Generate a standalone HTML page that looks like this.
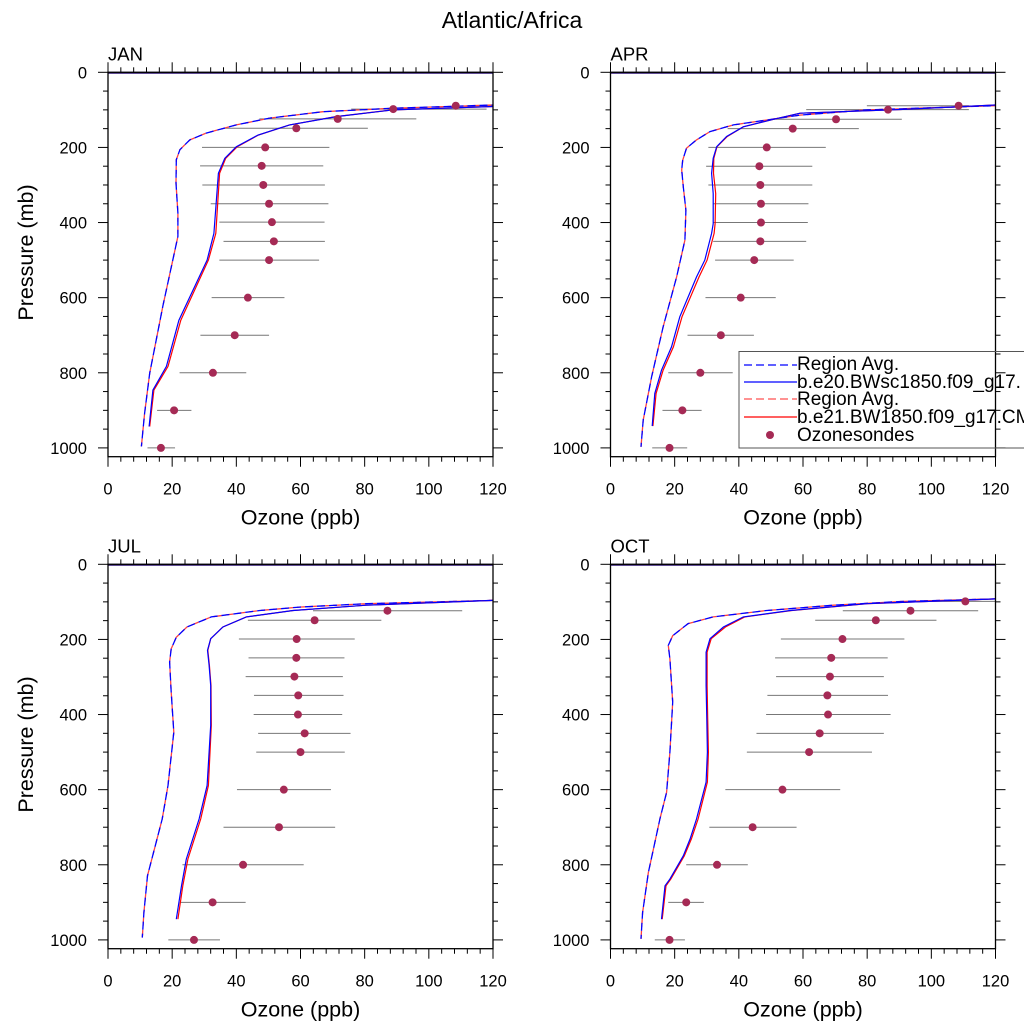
<!DOCTYPE html>
<html><head><meta charset="utf-8"><style>
html,body{margin:0;padding:0;background:#fff;}
svg{display:block;font-family:"Liberation Sans",sans-serif;}
</style></head><body>
<svg id="chart" width="1024" height="1024" viewBox="0 0 1024 1024" xmlns="http://www.w3.org/2000/svg">
<rect width="1024" height="1024" fill="#fff"/>
<text x="512" y="28" font-size="23" text-anchor="middle">Atlantic/Africa</text>
<g id="panels"></g>
<g>
<rect x="739" y="351.5" width="300" height="96.5" fill="none" stroke="#555" stroke-width="1"/>
<line x1="744" y1="365" x2="797" y2="365" stroke="#0000ff" stroke-width="1.2" stroke-dasharray="8,4"/>
<text x="797" y="370" font-size="19">Region Avg.</text>
<line x1="744" y1="382" x2="797" y2="382" stroke="#0000ff" stroke-width="1.2"/>
<text x="797" y="388" font-size="19">b.e20.BWsc1850.f09_g17.</text>
<line x1="744" y1="399" x2="797" y2="399" stroke="#ff5050" stroke-width="1.2" stroke-dasharray="8,4"/>
<text x="797" y="405" font-size="19">Region Avg.</text>
<line x1="744" y1="417" x2="797" y2="417" stroke="#ff0000" stroke-width="1.2"/>
<text x="797" y="423" font-size="19">b.e21.BW1850.f09_g17.CM</text>
<circle cx="770" cy="435" r="4" fill="#a52a55"/>
<text x="797" y="441" font-size="19">Ozonesondes</text>
</g>
</svg>
<script>
// ---- data ----
const panelNames = ["JAN","APR","JUL","OCT"];
const xTicks = [0,20,40,60,80,100,120];
const yTicks = [0,200,400,600,800,1000];
const janObsP = [89,98,124,149,200,249,300,350,399,450,500,600,700,800,900,1000];
const janObsV = [108.4,88.9,71.6,58.7,49,47.9,48.4,50.2,51.1,51.7,50.2,43.6,39.5,32.7,20.6,16.5];
const janObsLo = [111.7,75.8,47.2,36.4,29.3,28.7,29.4,32,34.7,36,34.7,32.3,28.8,22.3,15.3,12.3];
const janObsHi = [125,118,96.1,81,69,67.1,67.6,68.7,67.5,67.6,65.8,55,50.2,43.1,26,20.9];
const aprObsP = [89,99.5,125,150,200,250,300,350,400,450,500,600,700,800,900,1000];
const aprObsV = [108.5,86.5,70.3,56.8,48.7,46.4,46.7,46.9,46.9,46.7,44.8,40.6,34.4,28,22.4,18.4];
const aprObsLo = [79.9,61,50.8,36.5,30.5,29.8,30.5,32,32,32,32.6,29.6,24,18,16.2,13];
const aprObsHi = [111.7,111.7,90.8,77.4,67.1,62.9,62.9,61.7,61.5,61,57.1,51.5,44.7,38.1,28.4,23.9];
const julObsP = [123.6,149,199,249,299,349,400,450,500,600,700,800,900,1000];
const julObsV = [87.1,64.4,58.8,58.7,58.1,59.3,59.2,61.3,60,54.8,53.3,42.1,32.6,26.8];
const julObsLo = [63.9,43.6,40.8,43.8,42.9,45.5,45.4,46.8,46.2,40.2,36,23.2,22.5,18.8];
const julObsHi = [110.4,85.2,76.9,73.7,73.2,73.4,73,75.6,73.8,69.5,70.8,61,42.9,34.9];
const octObsP = [98.7,123.6,149,199,249,299,349,400,450,500,600,700,800,900,1000];
const octObsV = [110.6,93.5,82.7,72.3,68.8,68.4,67.6,67.8,65.2,61.9,53.6,44.3,33.2,23.6,18.4];
const octObsLo = [97.6,72.4,63.8,53.1,51.3,51.6,48.9,48.5,45.5,42.5,35.8,30.8,23.6,18,13.8];
const octObsHi = [120,114.6,101.6,91.6,86.4,85.2,86.5,87.3,85.2,81.5,71.6,58,42.8,29.1,23.2];
const janSolidP = [943,846,783,660,500,429,269,229,198,167,140,118,100,91,88];
const janSolidV = [12.8,14,18.2,22.1,30.9,33,34.4,36.4,40,46.8,56.6,71.2,88.8,120,140];
const janSolidRedV = [13.0,14.3,18.7,22.7,31.3,33.6,34.8,36.7,40.3,46.9,56.6,71.0,88.6,120,140];
const janDashP = [996,908,801,622,437,375,295,233,206,180,162,140,122,105,96,87,85];
const janDashV = [10.4,11.4,13,17.1,21.8,21.8,21.2,21.3,22.4,25.5,30.6,40,50.4,67,87.8,120,140];
const aprSolidP = [942,855,793,731,651,545,500,429,403,323,269,229,198,171,145,125,109,99,87,85];
const aprSolidV = [13,13.8,15.9,19,21.6,26.8,29.4,31.5,32,32,31.5,32,33.1,36.2,41.4,50.8,59.1,90.3,120,140];
const aprSolidRedV = [13.2,14.2,16.4,19.6,22.3,27.6,30.1,32.3,32.6,32.8,32.1,32.2,33.2,36.4,41.4,50.8,59.1,90.3,120,140];
const aprDashP = [997,926,811,678,545,447,367,305,260,234,202,180,158,140,127,114,100,89,86];
const aprDashV = [9.5,10.2,12.8,16.4,20.6,23.2,23.5,22.7,22.2,22.5,23.7,26.8,31,38.3,48.7,59.1,79.9,120,140];
const julSolidP = [945,856,785,678,589,429,323,269,229,198,167,140,123,109,96,94];
const julSolidV = [21.3,22.9,24.4,28.4,30.9,32,32,31.5,31,32,35.8,43.1,57.7,80.5,120,140];
const julSolidRedV = [21.8,23.3,24.9,28.9,31.3,32.2,32.1,31.6,31.1,32,35.8,43.1,57.7,80.5,120,140];
const julDashP = [994,927,829,678,589,447,340,260,225,194,167,140,123,114,105,96,94];
const julDashV = [10.7,11.2,12.3,16.9,18.7,20.5,19.7,19.2,19.7,21.3,24.6,32.2,47.3,59.7,80.5,120,140];
const octSolidP = [945,856,838,776,731,678,580,500,411,323,234,198,167,140,123,105,92,90];
const octSolidV = [15.9,17,18.5,22.7,24.8,26.8,29.8,30.2,30,29.8,29.8,31,35.2,41.4,56,79.9,120,140];
const octSolidRedV = [16.1,17.3,18.8,23,25.2,27.3,30.2,30.5,30.3,30.1,30.1,31.4,35.8,41.9,56.5,80.2,120,140];
const octDashP = [997,927,820,678,607,500,367,252,216,190,158,140,123,109,99,92,90];
const octDashV = [9.5,10,11.8,15.4,17.5,18.5,19.4,18.5,18,19.4,24.2,32,48.7,69.5,90.3,120,140];

const panelData = [
 {obsP:janObsP,obsV:janObsV,lo:janObsLo,hi:janObsHi,sP:janSolidP,sV:janSolidV,sR:janSolidRedV,dP:janDashP,dV:janDashV},
 {obsP:aprObsP,obsV:aprObsV,lo:aprObsLo,hi:aprObsHi,sP:aprSolidP,sV:aprSolidV,sR:aprSolidRedV,dP:aprDashP,dV:aprDashV},
 {obsP:julObsP,obsV:julObsV,lo:julObsLo,hi:julObsHi,sP:julSolidP,sV:julSolidV,sR:julSolidRedV,dP:julDashP,dV:julDashV},
 {obsP:octObsP,obsV:octObsV,lo:octObsLo,hi:octObsHi,sP:octSolidP,sV:octSolidV,sR:octSolidRedV,dP:octDashP,dV:octDashV}
];
const origins = [[108,72.3],[610.5,72.3],[108,564.3],[610.5,564.3]];
const W=385, H=384.4, PSCALE=0.3756;
const NS="http://www.w3.org/2000/svg";
const root=document.getElementById('panels');
function mk(tag,attrs,parent){const e=document.createElementNS(NS,tag);for(const k in attrs)e.setAttribute(k,attrs[k]);parent.appendChild(e);return e;}

panelNames.forEach((name,i)=>{
  const [ox,oy]=origins[i];
  const d=panelData[i];
  const sx=v=>ox+v*W/120;
  const sy=p=>oy+p*PSCALE;
  const g=mk('g',{},root);
  
  
  const clipId='clip'+i;
  const cp=mk('clipPath',{id:clipId},g);
  mk('rect',{x:ox,y:oy-1,width:W,height:H+1},cp);
  const lbl=mk('text',{x:ox,y:oy-12,'font-size':18.5},g);lbl.textContent=name;
  
  
  const tk=mk('g',{stroke:'#000','stroke-width':1},g);
  for(let v=0;v<=120;v+=4){const maj=v%20===0;const L=maj?10:5;
    mk('line',{x1:sx(v),y1:oy,x2:sx(v),y2:oy-L},tk);
    mk('line',{x1:sx(v),y1:oy+H,x2:sx(v),y2:oy+H+L},tk);}
  for(let p=0;p<=1000;p+=50){const maj=p%200===0;const L=maj?10:5;
    mk('line',{x1:ox,y1:sy(p),x2:ox-L,y2:sy(p)},tk);
    mk('line',{x1:ox+W,y1:sy(p),x2:ox+W+L,y2:sy(p)},tk);}
  xTicks.forEach(v=>{const t=mk('text',{x:sx(v),y:oy+H+38,'font-size':16.5,'text-anchor':'middle'},g);t.textContent=v;
    
    });
  yTicks.forEach(p=>{const t=mk('text',{x:ox-21,y:sy(p)+6,'font-size':16.5,'text-anchor':'end'},g);t.textContent=p;
    
    });
  const xt=mk('text',{x:ox+W/2,y:oy+H+68,'font-size':21.5,'text-anchor':'middle'},g);xt.textContent='Ozone (ppb)';
  
  
  if(i%2===0){const yt=mk('text',{x:0,y:0,'font-size':21.5,'text-anchor':'middle',transform:`translate(33,${oy+H/2-12}) rotate(-90)`},g);yt.textContent='Pressure (mb)';
    
    }
  const cg=mk('g',{'clip-path':`url(#${clipId})`},g);
  d.obsP.forEach((p,j)=>{const l=mk('line',{x1:sx(d.lo[j]),y1:sy(p),x2:sx(d.hi[j]),y2:sy(p),stroke:'#777','stroke-width':1},cg);
    
    });
  const path=(P,V)=>P.map((p,j)=>(j?'L':'M')+sx(V[j]).toFixed(1)+','+sy(p).toFixed(1)).join(' ');
  const dr=mk('path',{d:path(d.dP,d.dV),fill:'none',stroke:'#ff4040','stroke-width':1.3,'stroke-dasharray':'8,4'},cg);
  
  const db=mk('path',{d:path(d.dP,d.dV),fill:'none',stroke:'#0000ff','stroke-width':1.3,'stroke-dasharray':'8,4','stroke-dashoffset':'4'},cg);
  
  const sr=mk('path',{d:path(d.sP,d.sR),fill:'none',stroke:'#ff0000','stroke-width':1.2},cg);
  
  const sb=mk('path',{d:path(d.sP,d.sV),fill:'none',stroke:'#0000ff','stroke-width':1.2},cg);
  
  d.obsP.forEach((p,j)=>{const c=mk('circle',{cx:sx(d.obsV[j]),cy:sy(p),r:4,fill:'#a52a55'},cg);
    
    });
  mk('line',{x1:ox,y1:oy+0.5,x2:ox+W,y2:oy+0.5,stroke:'#2a1070','stroke-width':2},g);
  const fr=mk('rect',{x:ox,y:oy,width:W,height:H,fill:'none',stroke:'#000','stroke-width':1.3},g);
  
  
});
</script>
</body></html>
